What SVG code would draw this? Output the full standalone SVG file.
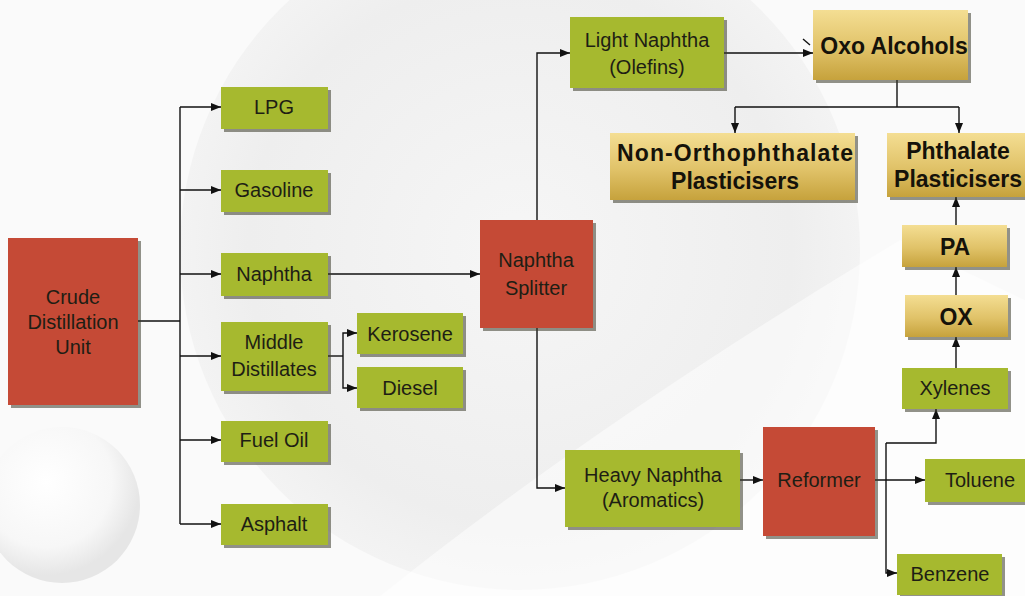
<svg xmlns="http://www.w3.org/2000/svg" width="1025" height="596" viewBox="0 0 1025 596">
<defs>
<style>
.g{fill:#a6b92f}
.r{fill:#c54a36}
.o{fill:url(#gold)}
.sh{fill:#3a3a2a;opacity:0.55}
.t{font-family:"Liberation Sans",Arial,sans-serif;font-size:20px;fill:#1e1e14;text-anchor:middle}
.b{font-family:"Liberation Sans",Arial,sans-serif;font-size:23px;font-weight:bold;fill:#15120a;text-anchor:middle}
.c{fill:none;stroke:#111;stroke-width:1.4}
.a{marker-end:url(#ah)}
</style>
<linearGradient id="gold" x1="0" y1="0" x2="0" y2="1">
<stop offset="0" stop-color="#f4de93"/>
<stop offset="0.55" stop-color="#e0c268"/>
<stop offset="1" stop-color="#c6a23c"/>
</linearGradient>
<radialGradient id="bgc" cx="0.5" cy="0.5" r="0.5">
<stop offset="0" stop-color="#f6f6f6"/>
<stop offset="0.8" stop-color="#eeeeee"/>
<stop offset="1" stop-color="#f3f3f3"/>
</radialGradient>
<radialGradient id="sph" cx="0.4" cy="0.35" r="0.6">
<stop offset="0" stop-color="#ffffff"/>
<stop offset="0.7" stop-color="#f7f7f7"/>
<stop offset="1" stop-color="#e6e6e6"/>
</radialGradient>
<marker id="ah" markerUnits="userSpaceOnUse" markerWidth="10" markerHeight="8" refX="10" refY="4" orient="auto">
<path d="M0,0 L10,4 L0,8 z" fill="#111"/>
</marker>
</defs>
<rect width="1025" height="596" fill="#fafafa"/>
<g id="background">
<circle cx="520" cy="250" r="340" fill="url(#bgc)"/>
<path d="M380,596 Q600,420 900,240 L1025,300 L1025,596 Z" fill="#ffffff" opacity="0.5"/>
<circle cx="62" cy="505" r="78" fill="url(#sph)"/>
</g>
<g id="connectors">
<path class="c" d="M138,321 H180" stroke-width="2"/>
<path class="c" d="M180,107 V524"/>
<path class="c a" d="M180,107 H221"/>
<path class="c a" d="M180,190 H221"/>
<path class="c a" d="M180,274 H221"/>
<path class="c a" d="M180,356 H221"/>
<path class="c a" d="M180,440 H221"/>
<path class="c a" d="M180,524 H221"/>
<path class="c a" d="M328,274 H480"/>
<path class="c" d="M328,356 H343"/>
<path class="c a" d="M343,356 V333 H357"/>
<path class="c a" d="M343,356 V388 H357"/>
<path class="c a" d="M537,220 V53 H570"/>
<path class="c a" d="M537,328 V488 H565"/>
<path class="c a" d="M724,53 H813"/>
<path class="c" d="M803,39 L810,45"/>
<path class="c" d="M897,80 V107"/>
<path class="c" d="M735,107 H959"/>
<path class="c a" d="M735,107 V133"/>
<path class="c a" d="M959,107 V133"/>
<path class="c a" d="M740,480 H763"/>
<path class="c a" d="M875,480 H925"/>
<path class="c a" d="M886,443 V573 H897"/>
<path class="c a" d="M886,443 H936 V409"/>
<path class="c a" d="M956,368 V337"/>
<path class="c a" d="M956,295 V267"/>
<path class="c a" d="M956,225 V197"/>
</g>
<g id="cdu">
<rect class="sh" x="11" y="241" width="130" height="167"/>
<rect class="r" x="8" y="238" width="130" height="167"/>
<text class="t"><tspan x="73" y="304">Crude</tspan><tspan x="73" y="329">Distillation</tspan><tspan x="73" y="354">Unit</tspan></text>
</g>
<g id="lpg">
<rect class="sh" x="224" y="90" width="107" height="42"/>
<rect class="g" x="221" y="87" width="107" height="42"/>
<text class="t" x="274" y="114">LPG</text>
</g>
<g id="gasoline">
<rect class="sh" x="224" y="173" width="107" height="42"/>
<rect class="g" x="221" y="170" width="107" height="42"/>
<text class="t" x="274" y="197">Gasoline</text>
</g>
<g id="naphtha">
<rect class="sh" x="224" y="256" width="107" height="43"/>
<rect class="g" x="221" y="253" width="107" height="43"/>
<text class="t" x="274" y="281">Naphtha</text>
</g>
<g id="middle-distillates">
<rect class="sh" x="224" y="325" width="107" height="69"/>
<rect class="g" x="221" y="322" width="107" height="69"/>
<text class="t"><tspan x="274" y="349">Middle</tspan><tspan x="274" y="376">Distillates</tspan></text>
</g>
<g id="fuel-oil">
<rect class="sh" x="224" y="424" width="107" height="41"/>
<rect class="g" x="221" y="421" width="107" height="41"/>
<text class="t" x="274" y="447">Fuel Oil</text>
</g>
<g id="asphalt">
<rect class="sh" x="224" y="507" width="107" height="41"/>
<rect class="g" x="221" y="504" width="107" height="41"/>
<text class="t" x="274" y="531">Asphalt</text>
</g>
<g id="kerosene">
<rect class="sh" x="360" y="316" width="106" height="41"/>
<rect class="g" x="357" y="313" width="106" height="41"/>
<text class="t" x="410" y="341">Kerosene</text>
</g>
<g id="diesel">
<rect class="sh" x="360" y="370" width="106" height="41"/>
<rect class="g" x="357" y="367" width="106" height="41"/>
<text class="t" x="410" y="395">Diesel</text>
</g>
<g id="naphtha-splitter">
<rect class="sh" x="483" y="223" width="113" height="108"/>
<rect class="r" x="480" y="220" width="113" height="108"/>
<text class="t"><tspan x="536" y="267">Naphtha</tspan><tspan x="536" y="295">Splitter</tspan></text>
</g>
<g id="light-naphtha">
<rect class="sh" x="573" y="20" width="154" height="71"/>
<rect class="g" x="570" y="17" width="154" height="71"/>
<text class="t"><tspan x="647" y="47">Light Naphtha</tspan><tspan x="647" y="74">(Olefins)</tspan></text>
</g>
<g id="oxo-alcohols">
<rect class="sh" x="816" y="13" width="155" height="70"/>
<rect class="o" x="813" y="10" width="155" height="70"/>
<text class="b" x="894" y="54" font-size="24">Oxo Alcohols</text>
</g>
<g id="non-orthophthalate">
<rect class="sh" x="613" y="136" width="245" height="67"/>
<rect class="o" x="610" y="133" width="245" height="67"/>
<text class="b"><tspan x="735" y="161" textLength="236" lengthAdjust="spacing">Non-Orthophthalate</tspan><tspan x="735" y="189">Plasticisers</tspan></text>
</g>
<g id="phthalate">
<rect class="sh" x="890" y="136" width="140" height="64"/>
<rect class="o" x="887" y="133" width="140" height="64"/>
<text class="b"><tspan x="958" y="159">Phthalate</tspan><tspan x="958" y="187">Plasticisers</tspan></text>
</g>
<g id="pa">
<rect class="sh" x="905" y="228" width="105" height="42"/>
<rect class="o" x="902" y="225" width="105" height="42"/>
<text class="b" x="955" y="255" font-size="24">PA</text>
</g>
<g id="ox">
<rect class="sh" x="908" y="298" width="103" height="42"/>
<rect class="o" x="905" y="295" width="103" height="42"/>
<text class="b" x="956" y="325" font-size="24">OX</text>
</g>
<g id="xylenes">
<rect class="sh" x="905" y="371" width="106" height="41"/>
<rect class="g" x="902" y="368" width="106" height="41"/>
<text class="t" x="955" y="395">Xylenes</text>
</g>
<g id="heavy-naphtha">
<rect class="sh" x="568" y="453" width="175" height="77"/>
<rect class="g" x="565" y="450" width="175" height="77"/>
<text class="t" font-size="21"><tspan x="653" y="482">Heavy Naphtha</tspan><tspan x="653" y="507">(Aromatics)</tspan></text>
</g>
<g id="reformer">
<rect class="sh" x="766" y="430" width="112" height="109"/>
<rect class="r" x="763" y="427" width="112" height="109"/>
<text class="t" x="819" y="487">Reformer</text>
</g>
<g id="toluene">
<rect class="sh" x="928" y="462" width="100" height="43"/>
<rect class="g" x="925" y="459" width="100" height="43"/>
<text class="t" x="980" y="487">Toluene</text>
</g>
<g id="benzene">
<rect class="sh" x="900" y="557" width="105" height="41"/>
<rect class="g" x="897" y="554" width="105" height="41"/>
<text class="t" x="950" y="581">Benzene</text>
</g>
</svg>
